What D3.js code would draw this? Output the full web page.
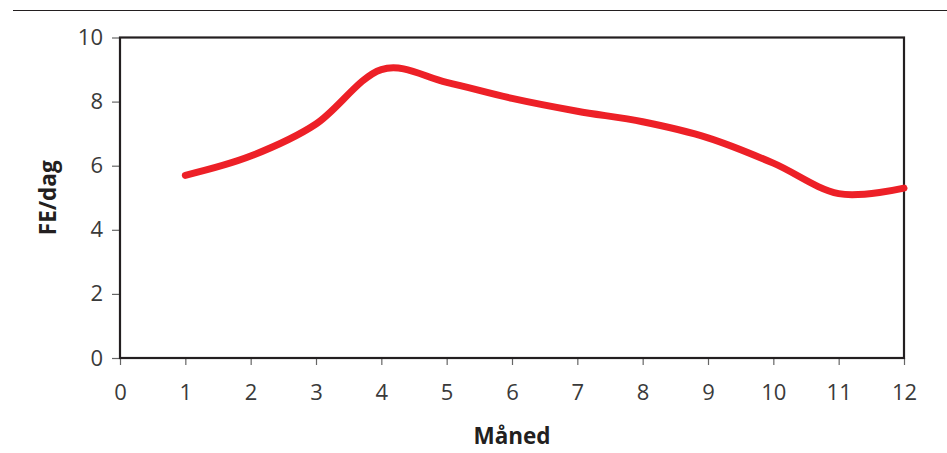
<!DOCTYPE html>
<html>
<head>
<meta charset="utf-8">
<script src="https://cdn.jsdelivr.net/npm/d3@7"></script>
<style>
html,body{margin:0;padding:0;background:#fff;}
svg{display:block;}
</style>
</head>
<body>
<svg id="chart" width="947" height="453"></svg>
<script>
const months = [1,2,3,4,5,6,7,8,9,10,11,12];
const feValues = [5.7,6.3,7.3,9.0,8.6,8.1,7.7,7.37,6.87,6.08,5.13,5.3];
const xTicks = [0,1,2,3,4,5,6,7,8,9,10,11,12];
const yTicks = [0,2,4,6,8,10];
const xTitle = "Måned";
const yTitle = "FE/dag";

const svg = d3.select("#chart");
const W = 947, H = 453;
const m = {left:120, right:43, top:37.5, bottom:95};
const x = d3.scaleLinear().domain([0,12]).range([m.left, W-m.right]);
const y = d3.scaleLinear().domain([0,10]).range([H-m.bottom, m.top]);

// top rule
svg.append("line").attr("x1",13).attr("x2",W).attr("y1",10.5).attr("y2",10.5)
  .attr("stroke","#231f20").attr("stroke-width",1.2);

const font = "'Open Sans', sans-serif";

// x axis
const gx = svg.append("g").attr("transform",`translate(0,${y(0)})`)
  .call(d3.axisBottom(x).tickValues(xTicks).tickFormat(d3.format("d")).tickSize(7).tickPadding(19));
gx.select(".domain").remove();
gx.selectAll(".tick line").attr("stroke","#666").attr("stroke-width",1.2);
gx.selectAll("text").attr("font-family",font).attr("font-weight",400).attr("font-size",22).attr("fill","#3a3a3a");

// y axis
const gy = svg.append("g").attr("transform",`translate(${x(0)},0)`)
  .call(d3.axisLeft(y).tickValues(yTicks).tickFormat(d3.format("d")).tickSize(8).tickPadding(9));
gy.select(".domain").remove();
gy.selectAll(".tick line").attr("stroke","#666").attr("stroke-width",1.2);
gy.selectAll("text").attr("font-family",font).attr("font-weight",400).attr("font-size",22).attr("fill","#3a3a3a");

// plot frame
svg.append("rect").attr("x",x(0)).attr("y",y(10)).attr("width",x(12)-x(0)).attr("height",y(0)-y(10))
  .attr("fill","none").attr("stroke","#231f20").attr("stroke-width",2.2);

// line
const line = d3.line().x((d,i)=>x(months[i])).y(d=>y(d)).curve(d3.curveCatmullRom.alpha(0));
svg.append("path").datum(feValues).attr("d",line).attr("fill","none")
  .attr("stroke","#ed2027").attr("stroke-width",7).attr("stroke-linecap","round");

// titles
svg.append("text").attr("x",(x(0)+x(12))/2).attr("y",444).attr("text-anchor","middle")
  .attr("font-family",font).attr("font-weight","bold").attr("font-size",22.5).attr("fill","#231f20").text(xTitle);
svg.append("text").attr("transform",`translate(56,${(y(0)+y(10))/2}) rotate(-90)`).attr("text-anchor","middle")
  .attr("font-family",font).attr("font-weight","bold").attr("font-size",22.5).attr("fill","#231f20").text(yTitle);
</script>
</body>
</html>
